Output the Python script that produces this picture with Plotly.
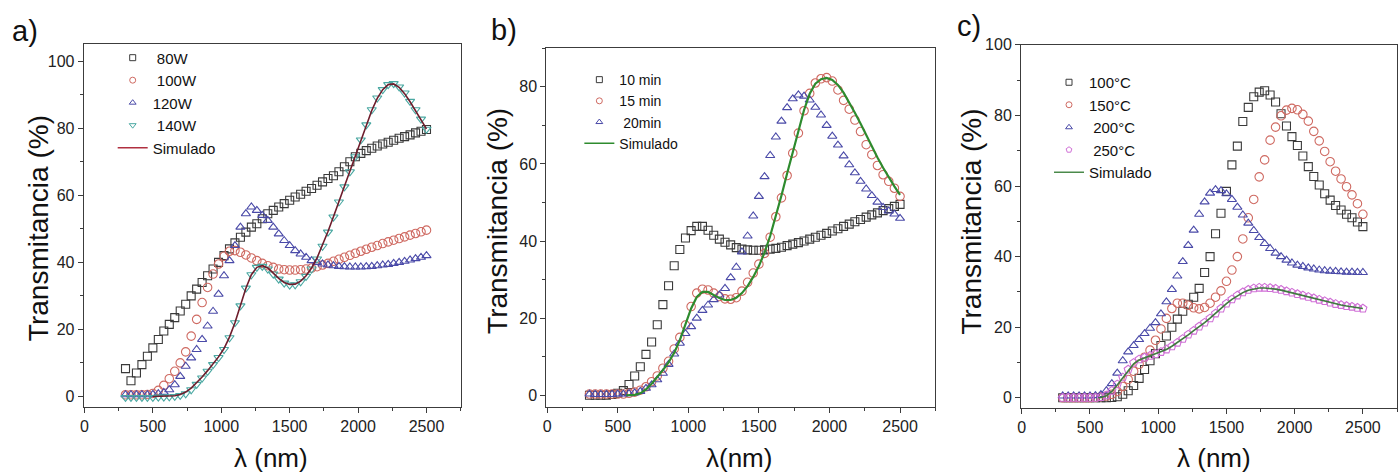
import plotly.graph_objects as go

# ---------------- data ----------------
WL = [300, 340, 380, 420, 460, 500, 540, 580, 620, 660,
      700, 740, 780, 820, 860, 900, 940, 980, 1020, 1060,
      1100, 1140, 1180, 1220, 1260, 1300, 1340, 1380, 1420, 1460,
      1500, 1540, 1580, 1620, 1660, 1700, 1740, 1780, 1820, 1860,
      1900, 1940, 1980, 2020, 2060, 2100, 2140, 2180, 2220, 2260,
      2300, 2340, 2380, 2420, 2460, 2500]

SIM_WL_A = [500, 540, 580, 620, 660,
            700, 740, 780, 820, 860, 900, 940, 980, 1020, 1060,
            1100, 1140, 1180, 1220, 1260, 1300, 1340, 1380, 1420, 1460,
            1500, 1540, 1580, 1620, 1660, 1700, 1740, 1780, 1820, 1860,
            1900, 1940, 1980, 2020, 2060, 2100, 2140, 2180, 2220, 2260,
            2300, 2340, 2380, 2420, 2460, 2500]
SIM_WL_BC = [560, 580, 620, 660,
             700, 740, 780, 820, 860, 900, 940, 980, 1020, 1060,
             1100, 1140, 1180, 1220, 1260, 1300, 1340, 1380, 1420, 1460,
             1500, 1540, 1580, 1620, 1660, 1700, 1740, 1780, 1820, 1860,
             1900, 1940, 1980, 2020, 2060, 2100, 2140, 2180, 2220, 2260,
             2300, 2340, 2380, 2420, 2460, 2500]

# panel a) power
T_80W = [8.3, 4.7, 7.0, 9.5, 12.0, 14.5, 17.0, 19.5, 21.5, 23.5,
         25.5, 27.5, 30.0, 32.0, 34.0, 36.0, 38.0, 40.0, 42.0, 44.0,
         45.8, 47.5, 49.0, 50.5, 51.5, 53.0, 54.5, 55.5, 56.5, 57.5,
         58.5, 59.5, 60.3, 61.2, 62.0, 63.0, 64.0, 65.0, 65.8, 67.0,
         68.5, 70.0, 71.5, 72.5, 73.3, 74.0, 74.7, 75.3, 75.8, 76.4,
         77.0, 77.5, 78.0, 78.6, 79.1, 79.6]
T_100W = [0.5, 0.5, 0.5, 0.5, 0.6, 0.9, 1.8, 3.3, 5.3, 7.5,
          10.0, 13.3, 18.0, 23.0, 28.0, 32.5, 36.5, 39.5, 41.8, 43.3,
          43.5, 43.0, 42.2, 41.3, 40.5, 39.7, 39.0, 38.5, 38.0, 37.8,
          37.7, 37.7, 37.8, 38.0, 38.3, 38.7, 39.2, 39.7, 40.3, 40.9,
          41.5, 42.1, 42.7, 43.3, 43.9, 44.5, 45.0, 45.6, 46.1, 46.6,
          47.1, 47.6, 48.1, 48.6, 49.1, 49.6]
T_120W = [0.5, 0.5, 0.5, 0.5, 0.5, 0.6, 0.8, 1.2, 2.0, 3.5,
          6.0, 9.0, 11.5, 14.0, 17.0, 21.0, 25.4, 30.5, 36.0, 40.5,
          45.0, 50.5, 54.5, 56.5, 55.5, 54.0, 52.5, 50.5, 48.5, 46.5,
          45.0, 43.5, 42.5, 41.5, 40.5, 40.0, 39.5, 39.2, 39.0, 38.8,
          38.7, 38.6, 38.6, 38.6, 38.7, 38.8, 39.0, 39.2, 39.4, 39.7,
          40.0, 40.3, 40.7, 41.1, 41.5, 42.0]
T_140W = [-0.3, -0.3, -0.3, -0.3, -0.3, -0.3, -0.2, -0.2, -0.1, 0.0,
          0.3, 0.8, 2.0, 3.6, 5.5, 7.5, 9.5, 11.6, 14.0, 17.5,
          22.0, 27.0, 32.3, 36.3, 38.5, 38.8, 38.0, 36.5, 35.0, 33.8,
          33.2, 33.3, 34.2, 35.8, 38.0, 41.0, 44.8, 49.0, 53.5, 58.0,
          62.5, 67.0, 71.5, 76.5, 81.0, 85.5, 89.0, 91.5, 93.0, 93.3,
          92.3, 90.5, 88.0, 85.5, 82.7, 79.7]
SIM_A = [0.0, 0.0, 0.0, 0.1, 0.2,
         0.6, 1.3, 2.5, 4.0, 5.8, 7.7, 9.7, 11.8, 14.3, 17.7,
         22.0, 27.0, 32.3, 36.3, 38.5, 39.0, 38.3, 36.8, 35.2, 34.0,
         33.4, 33.5, 34.4, 36.0, 38.3, 41.3, 45.0, 49.2, 53.6, 58.1,
         62.6, 67.1, 71.7, 76.5, 81.0, 85.3, 88.9, 91.5, 93.0, 93.2,
         92.2, 90.3, 87.9, 85.3, 82.6, 79.8]

# panel b) time
T_10MIN = [0.0, 0.0, 0.0, 0.0, 0.2, 0.5, 1.2, 2.8, 5.0, 7.4,
           10.6, 13.8, 18.3, 23.5, 28.4, 33.6, 37.8, 40.8, 42.7, 43.8,
           43.8, 42.8, 41.5, 40.5, 39.7, 39.0, 38.3, 37.9, 37.7, 37.6,
           37.6, 37.7, 37.9, 38.1, 38.4, 38.8, 39.2, 39.6, 40.0, 40.5,
           41.0, 41.5, 42.0, 42.6, 43.2, 43.8, 44.4, 45.0, 45.6, 46.2,
           46.8, 47.3, 47.9, 48.4, 49.0, 49.5]
T_15MIN = [0.3, 0.3, 0.3, 0.3, 0.3, 0.3, 0.3, 0.5, 0.8, 1.3,
           2.2, 3.5, 5.0, 7.0, 8.8, 12.0, 15.0, 18.2, 23.0, 26.5,
           27.5, 27.3, 26.5, 25.6, 25.0, 24.9, 25.3, 27.0, 29.3, 31.7,
           34.0, 36.8, 41.0, 46.3, 51.2, 57.0, 62.8, 68.0, 73.8, 78.3,
           81.0, 82.1, 82.4, 81.5, 79.2, 76.5, 74.2, 71.4, 68.4, 65.0,
           62.4, 59.6, 57.2, 55.5, 53.7, 51.6]
T_20MIN = [0.3, 0.2, 0.2, 0.2, 0.2, 0.3, 0.3, 0.4, 0.6, 1.0,
           1.8, 2.7, 4.0, 5.7, 8.0, 10.7, 13.5, 16.0, 17.8, 20.0,
           22.0, 23.4, 24.8, 26.0, 27.7, 30.5, 33.2, 37.2, 41.3, 46.5,
           51.6, 56.7, 62.2, 67.0, 71.1, 74.6, 76.9, 77.9, 77.6, 76.6,
           74.7, 72.7, 70.0, 67.2, 64.9, 62.1, 59.8, 57.7, 55.5, 53.5,
           51.8, 50.1, 48.7, 47.8, 47.0, 45.9]
SIM_B = [0.0, 0.0, 0.1, 0.5,
         1.5, 3.0, 4.7, 6.5, 8.5, 11.0, 14.3, 18.5, 22.5, 25.5,
         26.8, 26.8, 26.0, 25.2, 24.7, 24.7, 25.3, 26.5, 28.3, 30.7,
         33.5, 37.0, 41.3, 46.3, 51.8, 57.5, 63.2, 68.8, 74.0, 78.2,
         80.8, 82.0, 82.3, 81.8, 80.5, 78.5, 76.0, 73.3, 70.5, 67.5,
         64.5, 61.7, 59.0, 56.5, 54.2, 52.0]

# panel c) temperature
T_100C = [0.0, 0.0, 0.0, 0.0, 0.0, 0.0, 0.0, 0.0, 0.0, 0.1,
          0.3, 1.0, 2.0, 3.5, 5.5, 8.0, 10.5, 12.5, 14.8, 17.5,
          20.0, 22.3, 24.5, 26.5, 28.5, 31.0, 35.5, 40.0, 46.5, 52.3,
          58.5, 66.0, 71.3, 78.3, 82.3, 85.3, 86.6, 87.0, 85.8, 83.8,
          80.5, 77.0, 74.0, 71.5, 68.5, 65.5, 62.7, 60.3, 57.8, 56.0,
          54.5, 53.2, 52.0, 51.0, 49.8, 48.5]
T_150C = [0.0, 0.0, 0.0, 0.0, 0.0, 0.0, 0.1, 0.3, 0.5, 1.0,
          1.8, 3.2, 5.2, 7.5, 9.5, 11.5, 13.5, 16.3, 19.5, 22.5,
          25.3, 26.8, 26.8, 26.2, 25.5, 25.2, 25.6, 26.8, 28.5, 30.3,
          33.0, 36.2, 40.0, 45.0, 51.0, 56.2, 62.6, 67.4, 73.0, 76.7,
          79.9, 81.5, 82.0, 81.6, 80.3, 78.4, 75.5, 72.8, 69.8, 66.9,
          64.2, 62.0, 59.8, 57.5, 55.0, 52.0]
T_200C = [0.5, 0.5, 0.5, 0.5, 0.5, 0.5, 0.6, 0.9, 2.0, 4.0,
          7.0, 10.5, 13.0, 14.8, 16.5, 18.2, 19.7, 21.3, 23.8, 27.2,
          30.7, 34.5, 38.6, 43.2, 47.5, 52.0, 55.5, 58.0, 59.0, 58.7,
          57.8, 56.2, 54.0, 51.8, 49.5, 47.4, 45.4, 43.7, 42.3, 41.0,
          40.0, 39.0, 38.2, 37.6, 37.2, 36.8, 36.5, 36.2, 36.0, 35.9,
          35.8, 35.7, 35.6, 35.6, 35.5, 35.5]
T_250C = [0.0, 0.0, 0.0, 0.0, 0.0, 0.0, 0.0, 0.2, 0.7, 2.0,
          3.8, 5.8, 8.0, 9.9, 10.9, 11.4, 11.9, 12.4, 13.0, 13.7,
          14.6, 15.6, 16.7, 17.9, 19.0, 20.2, 21.3, 22.5, 23.9, 25.3,
          26.7, 27.9, 29.0, 29.9, 30.6, 31.0, 31.2, 31.2, 31.1, 30.9,
          30.6, 30.2, 29.8, 29.4, 29.0, 28.6, 28.2, 27.8, 27.4, 27.0,
          26.6, 26.3, 26.0, 25.8, 25.5, 25.3]
SIM_C = [0.0, 0.1, 0.6, 1.8,
         3.6, 5.6, 7.8, 9.6, 10.7, 11.3, 11.8, 12.3, 13.0, 13.7,
         14.6, 15.6, 16.7, 17.8, 19.0, 20.1, 21.3, 22.6, 24.0, 25.4,
         26.7, 27.9, 28.9, 29.8, 30.5, 30.9, 31.1, 31.1, 31.0, 30.8,
         30.5, 30.1, 29.7, 29.3, 28.9, 28.5, 28.1, 27.7, 27.3, 26.9,
         26.6, 26.3, 26.0, 25.7, 25.5, 25.3]

LABELS_A = ["\u00a080W", "\u00a0100W", "120W", "\u00a0140W", "Simulado"]
LABELS_B = ["10 min", "15 min", "\u00a020min", "Simulado"]
LABELS_C = ["100°C", "150°C", "\u00a0200°C", "\u00a0250°C", "Simulado"]

# ---------------- styles ----------------
FONT = "Liberation Sans, Arial, sans-serif"
W, H = 1399, 476
BLACK = "#3a3a3a"
RED = "#cf6a62"
BLUE = "#4a4aa8"
TEAL = "#4aa8a2"
MAGENTA = "#d070d6"
MAROON = "#6e1d2c"
GREEN = "#2e8b2e"


def px_x(p):
    return p / W


def px_y(p):
    return 1 - p / H


fig = go.Figure()


def add_markers(x, y, sym, color, size, xa, ya, name, legend):
    fig.add_trace(go.Scatter(x=x, y=y, mode="markers", name=name,
                             marker=dict(symbol=sym, color=color, size=size,
                                         line=dict(width=1.1, color=color)),
                             xaxis=xa, yaxis=ya, showlegend=False))
    fig.add_trace(go.Scatter(x=[None], y=[None], mode="markers", name=name,
                             marker=dict(symbol=sym, color=color, size=6,
                                         line=dict(width=1, color=color)),
                             xaxis=xa, yaxis=ya, showlegend=True, legend=legend))


def add_line(x, y, color, width, legcolor, xa, ya, name, legend):
    fig.add_trace(go.Scatter(x=x, y=y, mode="lines", name=name,
                             line=dict(color=color, width=width),
                             xaxis=xa, yaxis=ya, showlegend=False))
    fig.add_trace(go.Scatter(x=[None], y=[None], mode="lines", name=name,
                             line=dict(color=legcolor, width=1.5),
                             xaxis=xa, yaxis=ya, showlegend=True, legend=legend))


# panel a
add_markers(WL, T_80W, "square-open", BLACK, 8, "x", "y", LABELS_A[0], "legend")
add_markers(WL, T_100W, "circle-open", RED, 8.5, "x", "y", LABELS_A[1], "legend")
add_markers(WL, T_120W, "triangle-up-open", BLUE, 8, "x", "y", LABELS_A[2], "legend")
add_markers(WL, T_140W, "triangle-down-open", TEAL, 8, "x", "y", LABELS_A[3], "legend")
add_line(SIM_WL_A, SIM_A, MAROON, 1.6, "#b03040", "x", "y", LABELS_A[4], "legend")

# panel b
add_markers(WL, T_10MIN, "square-open", BLACK, 8, "x2", "y2", LABELS_B[0], "legend2")
add_markers(WL, T_15MIN, "circle-open", RED, 8.5, "x2", "y2", LABELS_B[1], "legend2")
add_markers(WL, T_20MIN, "triangle-up-open", BLUE, 8, "x2", "y2", LABELS_B[2], "legend2")
add_line(SIM_WL_BC, SIM_B, GREEN, 2.2, GREEN, "x2", "y2", LABELS_B[3], "legend2")

# panel c
add_markers(WL, T_100C, "square-open", BLACK, 8, "x3", "y3", LABELS_C[0], "legend3")
add_markers(WL, T_150C, "circle-open", RED, 8.5, "x3", "y3", LABELS_C[1], "legend3")
add_markers(WL, T_200C, "triangle-up-open", BLUE, 8, "x3", "y3", LABELS_C[2], "legend3")
add_markers(WL, T_250C, "pentagon-open", MAGENTA, 8.5, "x3", "y3", LABELS_C[3], "legend3")
add_line(SIM_WL_BC, SIM_C, "#3f7a3f", 1.6, "#4a8a4a", "x3", "y3", LABELS_C[4], "legend3")

AX = dict(showline=True, mirror=True, linecolor="#3c3c3c", linewidth=1.2,
          ticks="outside", ticklen=5, tickwidth=1, tickcolor="#3c3c3c",
          showgrid=False, zeroline=False,
          tickfont=dict(family=FONT, size=16, color="#222222"))
XAX = dict(AX, range=[-5, 2750], tick0=0, dtick=500,
           minor=dict(ticks="outside", ticklen=3, tickcolor="#3c3c3c", dtick=250, tick0=0, showgrid=False))


def YAX(rng):
    return dict(AX, range=rng, tick0=0, dtick=20,
                minor=dict(ticks="outside", ticklen=3, tickcolor="#3c3c3c", dtick=10, tick0=0, showgrid=False))


LEG = dict(bgcolor="rgba(0,0,0,0)", borderwidth=0, itemwidth=30, tracegroupgap=0,
           xanchor="left", yanchor="top", itemclick=False)

fig.update_layout(
    width=W, height=H,
    margin=dict(l=0, r=0, t=0, b=0),
    paper_bgcolor="white", plot_bgcolor="white",
    font=dict(family=FONT, color="#111111"),
    xaxis=dict(XAX, domain=[px_x(80), px_x(458)], anchor="y"),
    yaxis=dict(YAX([-3.2, 105]), domain=[px_y(406), px_y(37)], anchor="x"),
    xaxis2=dict(XAX, domain=[px_x(544), px_x(934)], anchor="y2"),
    yaxis2=dict(YAX([-3.1, 90]), domain=[px_y(406), px_y(41)], anchor="x2"),
    xaxis3=dict(XAX, domain=[px_x(1020), px_x(1397)], anchor="y3"),
    yaxis3=dict(YAX([-2.8, 100]), domain=[px_y(406.5), px_y(37.5)], anchor="x3"),
    legend=dict(LEG, x=px_x(109), y=px_y(34), font=dict(family=FONT, size=15, color="#111111")),
    legend2=dict(LEG, x=px_x(577), y=px_y(57), font=dict(family=FONT, size=14, color="#111111")),
    legend3=dict(LEG, x=px_x(1048), y=px_y(59), font=dict(family=FONT, size=15, color="#111111")),
)

ann = []
# panel letters
for txt, xp, yp in [("a)", 21, 23), ("b)", 501, 22), ("c)", 968, 18)]:
    ann.append(dict(text=txt, x=px_x(xp), y=px_y(yp), xref="paper", yref="paper",
                    xanchor="center", yanchor="middle", showarrow=False,
                    font=dict(family=FONT, size=29, color="#111111")))
# y titles
for xp, yp in [(34, 224), (495, 217), (970, 217)]:
    ann.append(dict(text="Transmitancia (%)", x=px_x(xp), y=px_y(yp), xref="paper", yref="paper",
                    xanchor="center", yanchor="middle", textangle=-90, showarrow=False,
                    font=dict(family=FONT, size=28, color="#111111")))
# x titles
for txt, xp in [("λ (nm)", 268), ("λ(nm)", 737), ("λ (nm)", 1213)]:
    ann.append(dict(text=txt, x=px_x(xp), y=px_y(458), xref="paper", yref="paper",
                    xanchor="center", yanchor="middle", showarrow=False,
                    font=dict(family=FONT, size=26, color="#111111")))
fig.update_layout(annotations=ann)

fig.write_html("out.html",
               config={"displayModeBar": False},
               post_script="document.body.style.margin='0';document.body.style.padding='0';"
                           "document.body.style.overflow='hidden';")
